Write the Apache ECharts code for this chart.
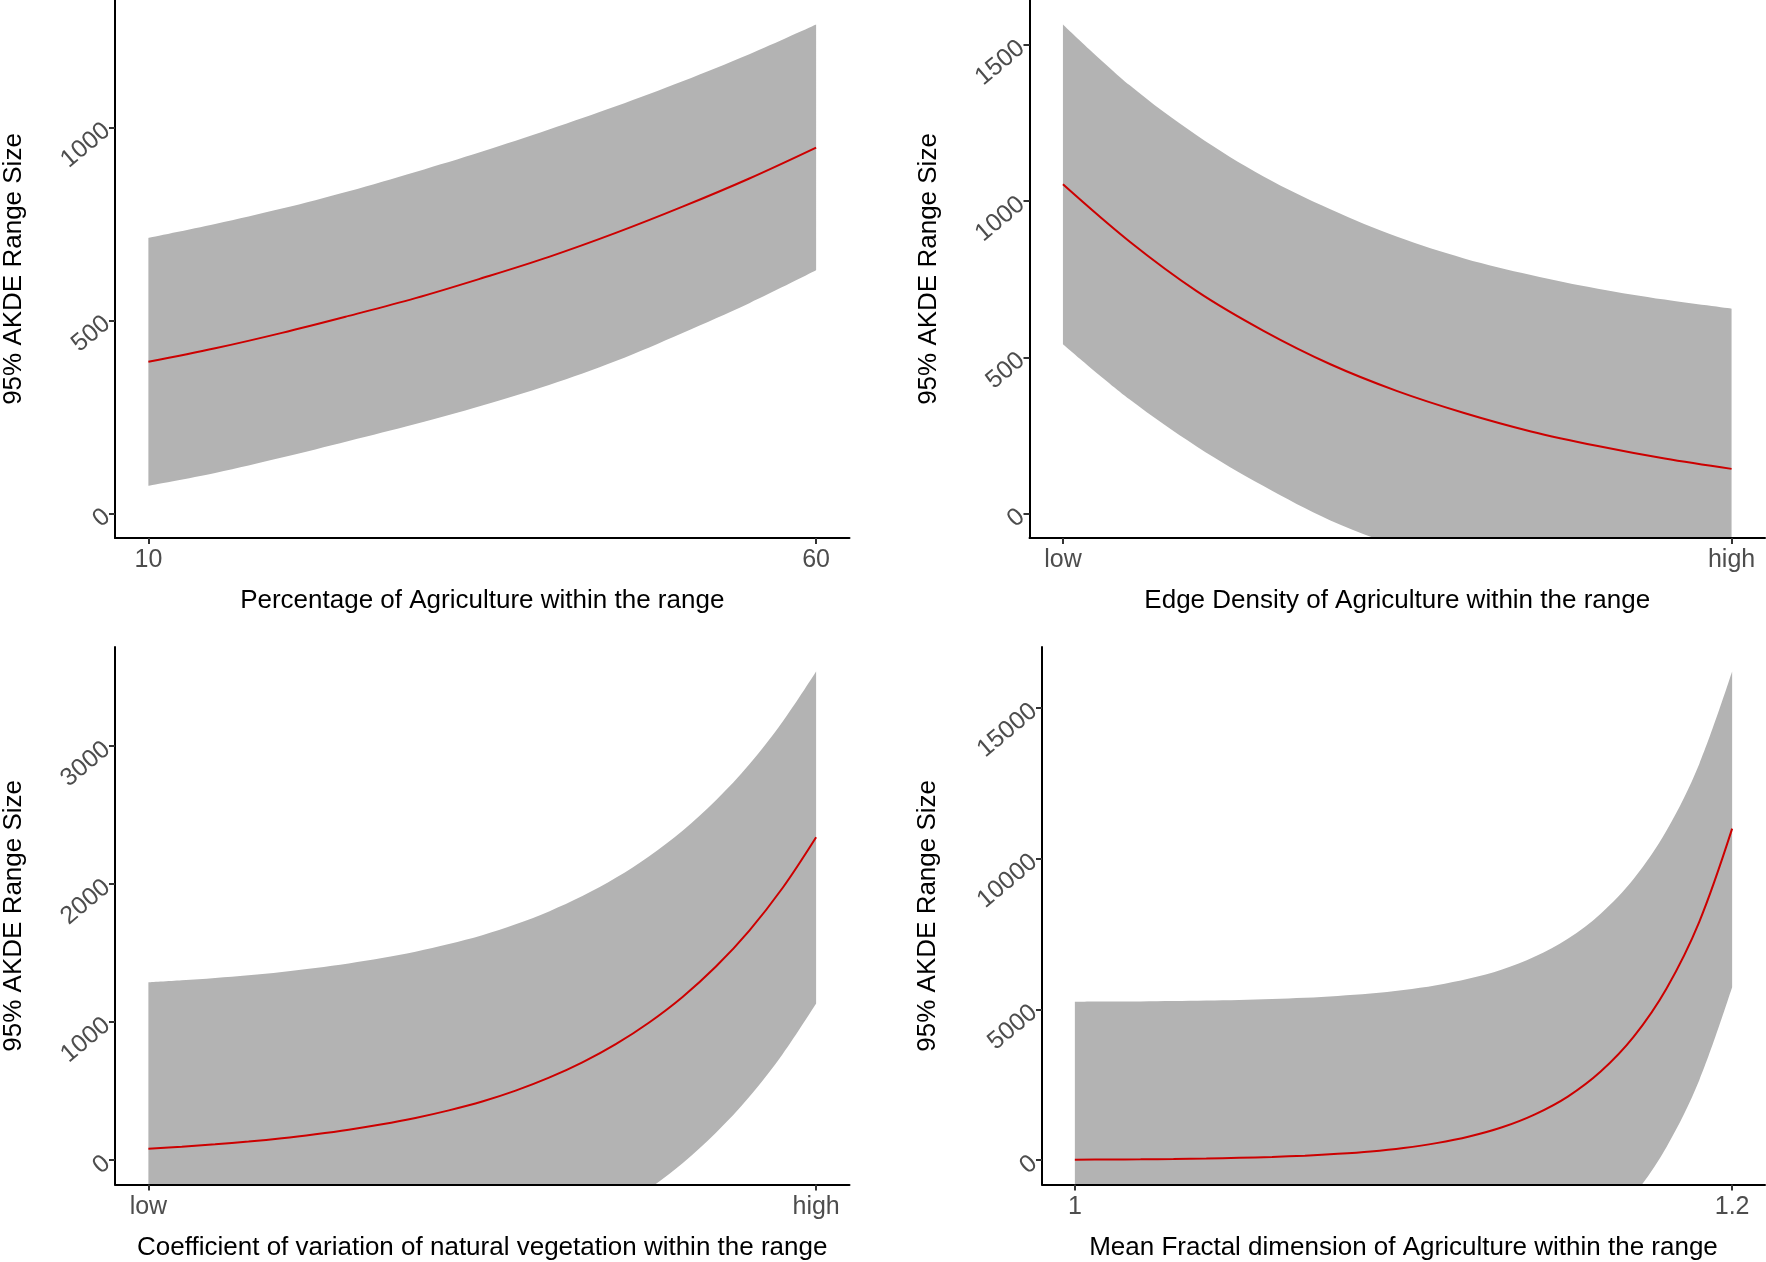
<!DOCTYPE html>
<html><head><meta charset="utf-8">
<script src="https://cdn.jsdelivr.net/npm/echarts@6/dist/echarts.min.js"></script>
<style>html,body{margin:0;padding:0;background:#fff}#c{width:1766px;height:1262px}</style>
</head><body><div id="c"></div>
<script>
// ---------- Panel 1: Percentage of Agriculture ----------
const p1X     = [10, 15, 20, 25, 30, 35, 40, 45, 50, 55, 60];
const p1Fit   = [393, 428, 468, 512, 558, 610, 665, 727, 795, 868, 948];
const p1Upper = [714, 750, 790, 835, 885, 938, 995, 1055, 1120, 1190, 1267];
const p1Lower = [72, 105, 145, 188, 232, 280, 333, 395, 468, 545, 630];
const p1XTicks = [10, 60];
const p1XLabels = ['10', '60'];
const p1YTicks = [0, 500, 1000];

// ---------- Panel 2: Edge Density ----------
const p2X     = [0, 0.1, 0.2, 0.3, 0.4, 0.5, 0.6, 0.7, 0.8, 0.9, 1];
const p2Fit   = [1054, 870, 712, 585, 478, 392, 322, 263, 216, 176, 143];
const p2Upper = [1566, 1371, 1211, 1079, 974, 886, 817, 764, 720, 685, 656];
const p2Lower = [542, 365, 215, 88, -22, -105, -175, -238, -288, -333, -370];
const p2XTicks = [0, 1];
const p2XLabels = ['low', 'high'];
const p2YTicks = [0, 500, 1000, 1500];

// ---------- Panel 3: Coefficient of variation ----------
const p3X     = [0, 0.05, 0.1, 0.15, 0.2, 0.25, 0.3, 0.35, 0.4, 0.45, 0.5,
                 0.55, 0.6, 0.65, 0.7, 0.75, 0.8, 0.85, 0.9, 0.95, 1];
const p3Fit   = [83, 98, 115, 135, 159, 188, 221, 260, 306, 361, 425,
                 504, 598, 709, 841, 998, 1183, 1403, 1664, 1974, 2340];
const p3Upper = [1288, 1303, 1320, 1340, 1364, 1393, 1426, 1465, 1511, 1566, 1630,
                 1709, 1803, 1914, 2046, 2203, 2388, 2608, 2869, 3179, 3542];
const p3Lower = [-1122, -1107, -1090, -1070, -1046, -1017, -984, -945, -899, -844, -780,
                 -701, -607, -496, -364, -207, -22, 198, 459, 769, 1135];
const p3XTicks = [0, 1];
const p3XLabels = ['low', 'high'];
const p3YTicks = [0, 1000, 2000, 3000];

// ---------- Panel 4: Mean Fractal dimension ----------
const p4X     = [1, 1.01, 1.02, 1.03, 1.04, 1.05, 1.06, 1.07, 1.08, 1.09, 1.1,
                 1.11, 1.12, 1.13, 1.14, 1.15, 1.16, 1.17, 1.18, 1.19, 1.2];
const p4Fit   = [15, 21, 29, 40, 56, 78, 108, 150, 210, 290, 405,
                 565, 785, 1090, 1520, 2110, 2940, 4090, 5690, 7910, 11000];
const p4Upper = [5255, 5261, 5269, 5280, 5296, 5318, 5348, 5390, 5450, 5530, 5645,
                 5805, 6025, 6330, 6760, 7350, 8180, 9330, 10930, 13150, 16218];
const p4Lower = [-5245, -5239, -5231, -5220, -5204, -5182, -5152, -5110, -5050, -4970, -4855,
                 -4695, -4475, -4170, -3740, -3150, -2320, -1170, 430, 2650, 5740];
const p4XTicks = [1, 1.2];
const p4XLabels = ['1', '1.2'];
const p4YTicks = [0, 5000, 10000, 15000];

const yTitle = '95% AKDE Range Size';
const xTitles = [
  'Percentage of Agriculture within the range',
  'Edge Density of Agriculture within the range',
  'Coefficient of variation of natural vegetation within the range',
  'Mean Fractal dimension of Agriculture within the range'
];

const FONT = '"Liberation Sans", Arial, Helvetica, sans-serif';
const panels = [
  {x: p1X, fit: p1Fit, hi: p1Upper, lo: p1Lower, xt: p1XTicks, xl: p1XLabels, yt: p1YTicks,
   grid: {left: 114, top: 0, width: 735.5, height: 538}, yGap: 88},
  {x: p2X, fit: p2Fit, hi: p2Upper, lo: p2Lower, xt: p2XTicks, xl: p2XLabels, yt: p2YTicks,
   grid: {left: 1029.5, top: 0, width: 735.5, height: 538}, yGap: 88},
  {x: p3X, fit: p3Fit, hi: p3Upper, lo: p3Lower, xt: p3XTicks, xl: p3XLabels, yt: p3YTicks,
   grid: {left: 114, top: 647, width: 735.5, height: 537.6}, yGap: 88},
  {x: p4X, fit: p4Fit, hi: p4Upper, lo: p4Lower, xt: p4XTicks, xl: p4XLabels, yt: p4YTicks,
   grid: {left: 1042, top: 647, width: 723, height: 537.6}, yGap: 101}
];

const grids = [], xAxes = [], yAxes = [], series = [];
panels.forEach((p, i) => {
  grids.push(Object.assign({containLabel: false}, p.grid));
  const xmin = Math.min(...p.x), xmax = Math.max(...p.x), xpad = 0.05 * (xmax - xmin);
  const ymin = 0, ymax = Math.max(...p.hi), ypad = 0.05 * (ymax - ymin);
  xAxes.push({
    type: 'value', gridIndex: i, min: xmin - xpad, max: xmax + xpad, z: 10,
    axisLine: {show: true, onZero: false, lineStyle: {color: '#000', width: 2}},
    axisTick: {show: true, customValues: p.xt, length: 6, lineStyle: {color: '#333', width: 2}},
    axisLabel: {customValues: p.xt, color: '#4d4d4d', fontSize: 25, fontFamily: FONT, margin: 10,
      formatter: v => { const k = p.xt.findIndex(t => Math.abs(t - v) < 1e-9); return k >= 0 ? p.xl[k] : ''; }},
    splitLine: {show: false},
    name: xTitles[i], nameLocation: 'middle', nameGap: 50,
    nameTextStyle: {fontSize: 26, color: '#000', fontFamily: FONT}
  });
  yAxes.push({
    type: 'value', gridIndex: i, min: ymin - ypad, max: ymax + ypad, z: 10,
    axisLine: {show: true, onZero: false, lineStyle: {color: '#000', width: 2}},
    axisTick: {show: true, customValues: p.yt, length: 6, lineStyle: {color: '#333', width: 2}},
    axisLabel: {customValues: p.yt, color: '#4d4d4d', fontSize: 25, fontFamily: FONT, margin: 8, rotate: 40,
      formatter: v => String(Math.round(v))},
    splitLine: {show: false},
    name: yTitle, nameLocation: 'middle', nameGap: p.yGap, nameRotate: 90,
    nameTextStyle: {fontSize: 26, color: '#000', fontFamily: FONT}
  });
  // ribbon as a stacked band: base = lower bound, stacked span = upper - lower
  // (value dimension first so that it is the stacked one; x read from dim 1)
  const loData = p.x.map((x, k) => [p.lo[k], x]);
  const spanData = p.x.map((x, k) => [p.hi[k] - p.lo[k], x]);
  const fitData = p.x.map((x, k) => [x, p.fit[k]]);
  series.push({
    type: 'line', xAxisIndex: i, yAxisIndex: i, data: loData, encode: {x: 1, y: 0},
    stack: 'band' + i, stackStrategy: 'all', name: 'lower',
    symbol: 'none', smooth: 0.35, lineStyle: {width: 0, opacity: 0}, silent: true, z: 1
  });
  series.push({
    type: 'line', xAxisIndex: i, yAxisIndex: i, data: spanData, encode: {x: 1, y: 0},
    stack: 'band' + i, stackStrategy: 'all', name: 'upper',
    symbol: 'none', smooth: 0.35, lineStyle: {width: 0, opacity: 0},
    areaStyle: {color: '#b3b3b3', opacity: 1}, silent: true, z: 2
  });
  series.push({
    type: 'line', xAxisIndex: i, yAxisIndex: i, data: fitData, name: 'fit',
    symbol: 'none', smooth: 0.35, lineStyle: {color: '#cc0000', width: 2}, silent: true, z: 3
  });
});

const chart = echarts.init(document.getElementById('c'), null, {renderer: 'canvas'});
chart.setOption({
  backgroundColor: '#ffffff',
  animation: false,
  grid: grids, xAxis: xAxes, yAxis: yAxes, series: series
});
</script>
</body></html>
